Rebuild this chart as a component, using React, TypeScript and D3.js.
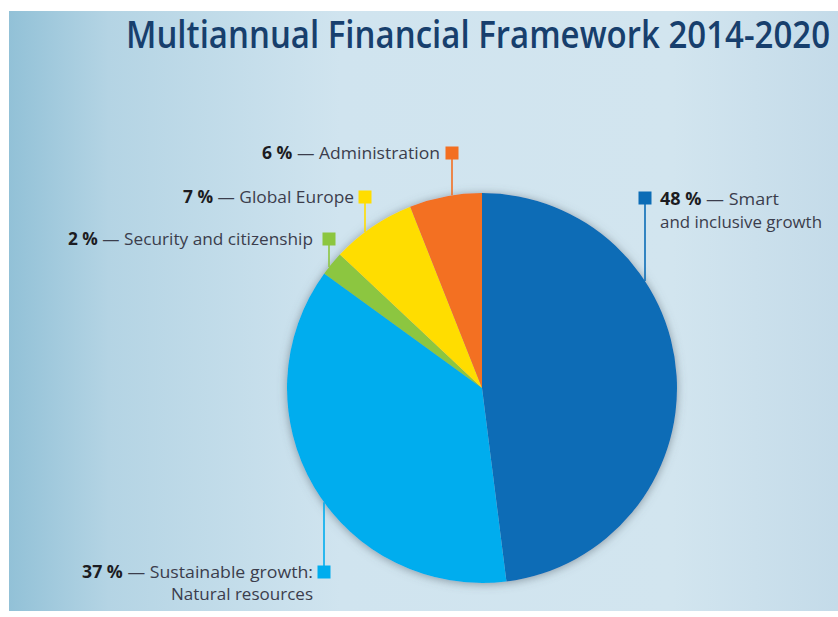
import React from 'react';
import * as d3 from 'd3';

// ---- data ----
const categories = [
  'Smart and inclusive growth',
  'Sustainable growth: Natural resources',
  'Security and citizenship',
  'Global Europe',
  'Administration',
];
const values = [48, 37, 2, 7, 6];
const labelTexts = [
  ['Smart', 'and inclusive growth'],
  ['Sustainable growth:', 'Natural resources'],
  ['Security and citizenship'],
  ['Global Europe'],
  ['Administration'],
];
const title = 'Multiannual Financial Framework 2014-2020';

// ---- styles / layout ----
const colors = ['#0b6cb6', '#00adee', '#8cc63f', '#ffdd00', '#f36f21'];
const W = 838;
const H = 617;
const cx = 482;
const cy = 388;
const R = 195;
const SQ = 13;

type Layout = {
  sx: number; sy: number; side: 'top' | 'bottom';
  anchor: 'start' | 'end'; tx: number; ys: number[]; lens: number[];
};
const layouts: Layout[] = [
  { sx: 645, sy: 198, side: 'top', anchor: 'start', tx: 660, ys: [205, 228], lens: [119, 162] },
  { sx: 324, sy: 572, side: 'bottom', anchor: 'end', tx: 313, ys: [578, 600], lens: [231, 142] },
  { sx: 329, sy: 239, side: 'top', anchor: 'end', tx: 313, ys: [245], lens: [245] },
  { sx: 365, sy: 197, side: 'top', anchor: 'end', tx: 354, ys: [203], lens: [171] },
  { sx: 452, sy: 153, side: 'top', anchor: 'end', tx: 440, ys: [159], lens: [178] },
];

export default function App() {
  const pie = d3.pie<number>().sort(null).value((d) => d).startAngle(0).endAngle(2 * Math.PI);
  const arcs = pie(values);
  const arc = d3.arc<d3.PieArcDatum<number>>().innerRadius(0).outerRadius(R);
  const font = "'Open Sans', 'Noto Sans', sans-serif";

  return (
    <svg width={W} height={H} style={{ position: 'absolute', left: 0, top: 0 }} xmlns="http://www.w3.org/2000/svg">
      <defs>
        <linearGradient id="bg" x1="0" x2="1" y1="0" y2="0">
          <stop offset="0" stopColor="#92c1d7" />
          <stop offset="0.12" stopColor="#b4d4e4" />
          <stop offset="0.4" stopColor="#d0e4ef" />
          <stop offset="0.8" stopColor="#d2e5ef" />
          <stop offset="1" stopColor="#c4dbe9" />
        </linearGradient>
        <filter id="shadow" x="-20%" y="-20%" width="140%" height="140%">
          <feDropShadow dx="0" dy="1" stdDeviation="5" floodColor="#55636d" floodOpacity="0.6" />
        </filter>
      </defs>
      <rect x={0} y={0} width={W} height={H} fill="#ffffff" />
      <rect x={9} y={11} width={W - 9} height={600} fill="url(#bg)" />

      <text x={126} y={48} fontFamily={font} fontWeight={600} fontSize={37} fill="#173f6d"
        textLength={704} lengthAdjust="spacingAndGlyphs">{title}</text>

      <g transform={`translate(${cx},${cy})`} filter="url(#shadow)">
        {arcs.map((a, i) => (
          <path key={categories[i]} d={arc(a) || ''} fill={colors[i]} />
        ))}
      </g>

      {layouts.map((l, i) => {
        const dx = l.sx - cx;
        const dy = Math.sqrt(R * R - dx * dx);
        const edgeY = l.side === 'top' ? cy - dy : cy + dy;
        const lines = labelTexts[i];
        return (
          <g key={'lab' + i}>
            <line x1={l.sx} x2={l.sx} y1={l.sy} y2={edgeY} stroke={colors[i]} strokeWidth={1.6} />
            <rect x={l.sx - SQ / 2} y={l.sy - SQ / 2} width={SQ} height={SQ} fill={colors[i]} />
            {lines.map((t, j) => (
              <text key={j} x={l.tx} y={l.ys[j]} textAnchor={l.anchor} fontFamily={font} fontSize={17}
                fill="#3b3d4c" textLength={l.lens[j]} lengthAdjust="spacingAndGlyphs">
                {j === 0 ? (
                  <>
                    <tspan fontWeight={700} fill="#1c1c22">{`${values[i]} %`}</tspan>
                    <tspan>{` — ${t}`}</tspan>
                  </>
                ) : t}
              </text>
            ))}
          </g>
        );
      })}
    </svg>
  );
}
